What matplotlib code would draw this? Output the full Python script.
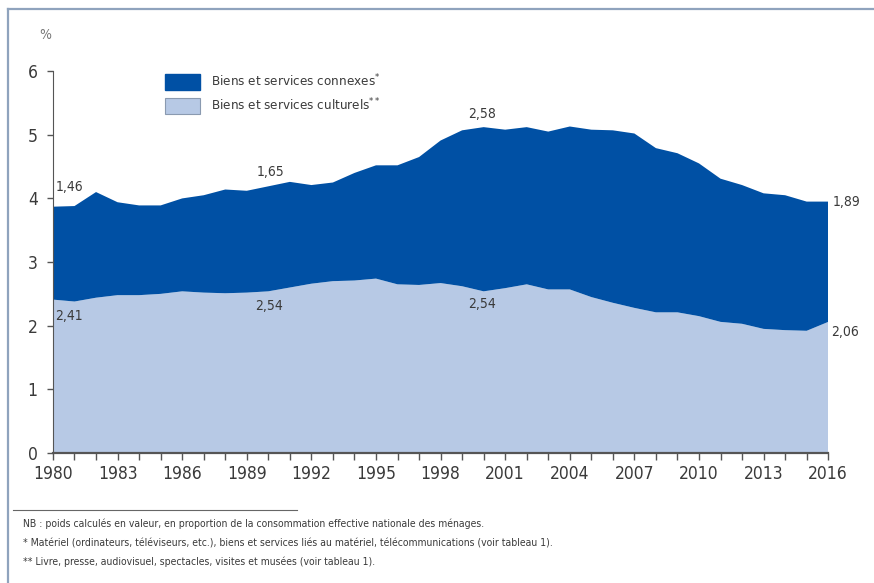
import matplotlib
matplotlib.use("Agg")
import matplotlib.pyplot as plt
from matplotlib.patches import Patch
from matplotlib.lines import Line2D

plt.rcParams['font.family'] = ['DejaVu Sans']
plt.rcParams['font.stretch'] = 'condensed'
plt.rcParams['mathtext.default'] = 'regular'

# --- data (% of household consumption) ---
years = list(range(1980, 2017))
culturels = [2.41, 2.38, 2.44, 2.48, 2.48, 2.50, 2.54, 2.52, 2.51, 2.52,
             2.54, 2.60, 2.66, 2.70, 2.71, 2.74, 2.65, 2.64, 2.67, 2.62,
             2.54, 2.59, 2.65, 2.57, 2.57, 2.45, 2.36, 2.28, 2.21, 2.21,
             2.15, 2.06, 2.03, 1.95, 1.93, 1.92, 2.06]
connexes = [1.46, 1.50, 1.66, 1.46, 1.41, 1.39, 1.46, 1.53, 1.63, 1.60,
            1.65, 1.66, 1.55, 1.55, 1.69, 1.78, 1.87, 2.01, 2.24, 2.45,
            2.58, 2.49, 2.47, 2.48, 2.56, 2.63, 2.71, 2.74, 2.58, 2.50,
            2.40, 2.25, 2.18, 2.13, 2.12, 2.03, 1.89]
label_years = [1980, 1990, 2000, 2016]
xtick_years = list(range(1980, 2017, 3))
yticks = [0, 1, 2, 3, 4, 5, 6]

dark = "#0050a4"
light = "#b7c9e5"
txt = "#3a3a3a"

fig = plt.figure(figsize=(8.74, 5.83), dpi=100)
ax = fig.add_axes([0.0606, 0.223, 0.887, 0.655])

ax.stackplot(years, culturels, connexes, colors=[light, dark], linewidth=0)

ax.set_xlim(1980, 2016)
ax.set_ylim(0, 6)
ax.set_yticks(yticks)
ax.set_xticks(years)
ax.set_xticklabels([str(y) if y in xtick_years else "" for y in years])
ax.tick_params(axis='x', length=5, width=1, color="#555555", labelsize=12.5,
               labelcolor=txt, pad=4)
ax.tick_params(axis='y', length=4, width=1, color="#555555", labelsize=12.5,
               labelcolor=txt, pad=7)
for s in ["top", "right"]:
    ax.spines[s].set_visible(False)
ax.spines["left"].set_color("#555555")
ax.spines["bottom"].set_color("#555555")
ax.spines["bottom"].set_linewidth(1.6)
ax.set_axisbelow(False)

ax.text(-0.01, 1.095, "%", transform=ax.transAxes, fontsize=10, color="#777777",
        ha="center", va="center")

# value labels
def fmt(v):
    return f"{v:.2f}".replace(".", ",")

offsets = {1980: ((3, 20), (2, -16), "left"),
           1990: ((2, 14), (1, -15), "center"),
           2000: ((-2, 13), (-2, -13), "center"),
           2016: ((4, 0), (3, -10), "left")}
for y in label_years:
    i = years.index(y)
    top = culturels[i] + connexes[i]
    up, down, ha = offsets[y]
    ax.annotate(fmt(connexes[i]), (y, top), xytext=up, textcoords="offset pixels",
                ha=ha, va="center", fontsize=10, color=txt, annotation_clip=False)
    ax.annotate(fmt(culturels[i]), (y, culturels[i]), xytext=down,
                textcoords="offset pixels", ha=ha, va="center", fontsize=10,
                color=txt, annotation_clip=False)

handles = [Patch(facecolor=dark, edgecolor=dark),
           Patch(facecolor=light, edgecolor="#8a9ab0", linewidth=0.8)]
ax.legend(handles, ["Biens et services connexes$^{*}$",
                    "Biens et services culturels$^{**}$"],
          loc="upper left", bbox_to_anchor=(0.1445, 0.995), frameon=False,
          fontsize=9.6, handlelength=2.6, handleheight=1.5,
          handletextpad=0.85, labelspacing=0.5, borderpad=0, borderaxespad=0,
          labelcolor=txt)

# frame and footnotes
fc = "#8fa3bd"
fig.add_artist(Line2D([8 / 874, 1], [1 - 9 / 583] * 2, color=fc, lw=1.6))
fig.add_artist(Line2D([8 / 874] * 2, [0, 1 - 9 / 583], color=fc, lw=1.6))
fig.add_artist(Line2D([13 / 874, 297 / 874], [1 - 510 / 583] * 2,
                      color="#666666", lw=0.8))

notes = ["NB : poids calculés en valeur, en proportion de la consommation effective nationale des ménages.",
         "* Matériel (ordinateurs, téléviseurs, etc.), biens et services liés au matériel, télécommunications (voir tableau 1).",
         "** Livre, presse, audiovisuel, spectacles, visites et musées (voir tableau 1)."]
for k, line in enumerate(notes):
    fig.text(23 / 874, 1 - (524 + 19 * k) / 583, line, fontsize=7.5,
             color=txt, va="center", ha="left")

fig.savefig("out.png", dpi=100)
